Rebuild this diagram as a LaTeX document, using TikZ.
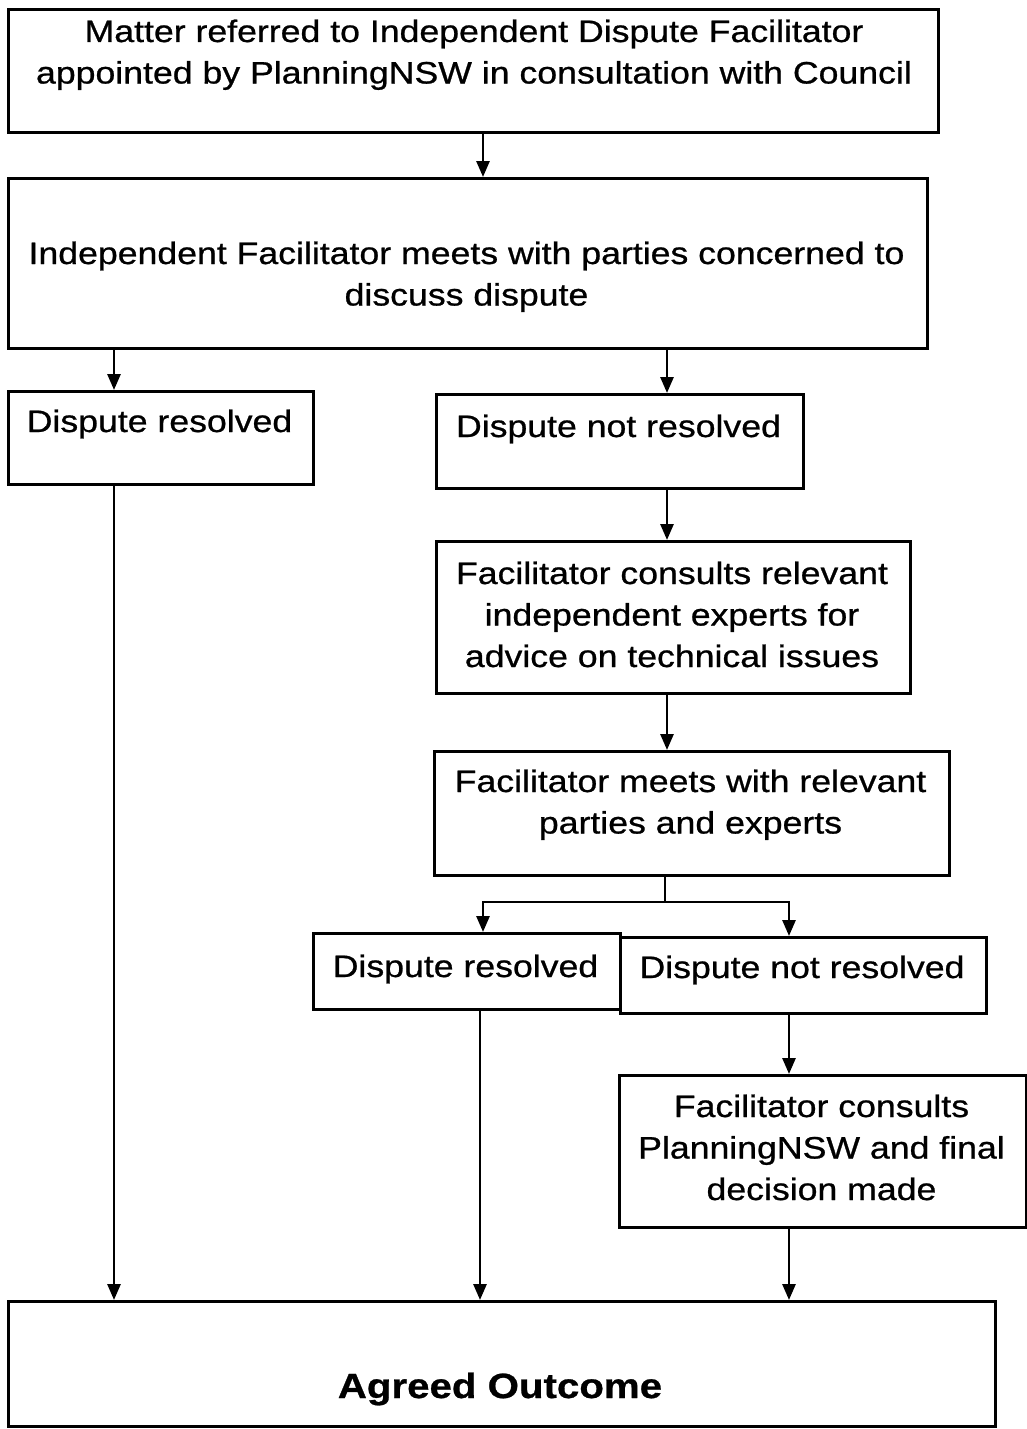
\documentclass[tikz,border=0pt]{standalone}
\usepackage{fontspec}
\setmainfont[FakeStretch=1.15,FakeBold=0.8]{Liberation Sans}
\usetikzlibrary{arrows.meta}
\newcommand{\mlines}[1]{\begin{tabular}[t]{@{}c@{}}#1\end{tabular}}
\begin{document}
\begin{tikzpicture}[x=1pt,y=-1pt,
  box/.style={draw,line width=2.8pt,rectangle,inner sep=0pt,anchor=north west},
  txt/.style={inner sep=0pt,anchor=base,font=\fontsize{31}{41.5}\selectfont},
  bigtxt/.style={inner sep=0pt,anchor=base,font=\fontsize{35}{42}\selectfont\bfseries},
  arr/.style={line width=2.8pt,-{Triangle[length=16pt,width=13pt]}},
  ln/.style={line width=2.8pt}]
\fill[white] (0,0) rectangle (1027,1429);
\useasboundingbox (0,0) rectangle (1027,1429);
% boxes
\node[box,minimum width=930pt,minimum height=123pt] (b1) at (7,8) {};
\node[box,minimum width=919pt,minimum height=170pt] (b2) at (7,177) {};
\node[box,minimum width=305pt,minimum height=93pt] (b3) at (7,390) {};
\node[box,minimum width=367pt,minimum height=94pt] (b4) at (435,393) {};
\node[box,minimum width=474pt,minimum height=152pt] (b5) at (435,540) {};
\node[box,minimum width=515pt,minimum height=124pt] (b6) at (433,750) {};
\node[box,minimum width=307pt,minimum height=76pt] (b7) at (312,932) {};
\node[box,minimum width=366pt,minimum height=76pt] (b8) at (619,936) {};
\node[box,minimum width=407pt,minimum height=152pt] (b9) at (618,1074) {};
\node[box,minimum width=987pt,minimum height=125pt] (b10) at (7,1300) {};
% texts
\node[txt] (t1) at (474,42) {\mlines{Matter referred to Independent Dispute Facilitator\\appointed by PlanningNSW in consultation with Council}};
\node[txt] (t2) at (466.5,264) {\mlines{Independent Facilitator meets with parties concerned to\\discuss dispute}};
\node[txt] (t3) at (159.5,432) {Dispute resolved};
\node[txt] (t4) at (618.5,437) {Dispute not resolved};
\node[txt] (t5) at (672,584) {\mlines{Facilitator consults relevant\\independent experts for\\advice on technical issues}};
\node[txt] (t6) at (690.5,792) {\mlines{Facilitator meets with relevant\\parties and experts}};
\node[txt] (t7) at (465.5,977) {Dispute resolved};
\node[txt] (t8) at (802,978) {Dispute not resolved};
\node[txt] (t9) at (821.5,1117) {\mlines{Facilitator consults\\PlanningNSW and final\\decision made}};
\node[bigtxt] (t10) at (500,1398) {Agreed Outcome};
% connector x positions
\coordinate (xa) at (483,0);
\coordinate (xb) at (114,0);
\coordinate (xc) at (667,0);
\coordinate (xd) at (789,0);
\coordinate (xe) at (480,0);
\coordinate (split) at (665,902);
% connectors
\draw[arr] (b1.south -| xa) -- (b2.north -| xa);
\draw[arr] (b2.south -| xb) -- (b3.north -| xb);
\draw[arr] (b2.south -| xc) -- (b4.north -| xc);
\draw[arr] (b4.south -| xc) -- (b5.north -| xc);
\draw[arr] (b5.south -| xc) -- (b6.north -| xc);
\draw[ln] (b6.south -| split) -- (split);
\draw[arr] (split) -| (b7.north -| xa);
\draw[arr] (split) -| (b8.north -| xd);
\draw[arr] (b7.south -| xe) -- (b10.north -| xe);
\draw[arr] (b8.south -| xd) -- (b9.north -| xd);
\draw[arr] (b9.south -| xd) -- (b10.north -| xd);
\draw[arr] (b3.south -| xb) -- (b10.north -| xb);
\end{tikzpicture}
\end{document}
